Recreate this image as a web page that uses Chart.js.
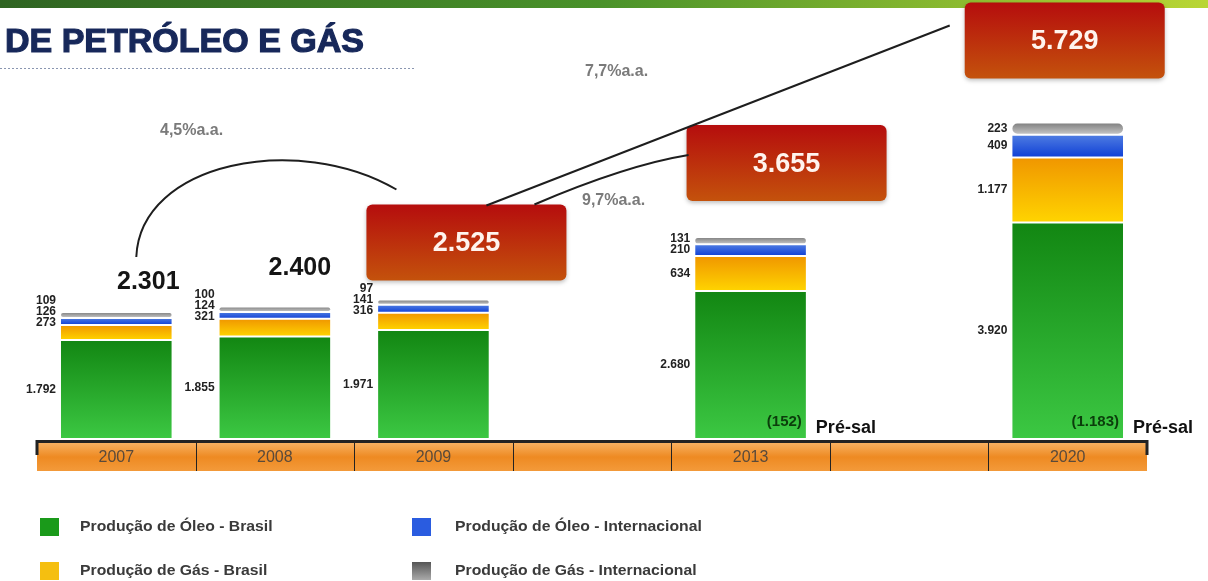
<!DOCTYPE html>
<html>
<head>
<meta charset="utf-8">
<script src="https://cdn.jsdelivr.net/npm/chart.js@4.4.0/dist/chart.umd.min.js"></script>
<style>
  body { margin: 0; background: #fff; }
  #box { width: 1208px; height: 581px; }
</style>
</head>
<body>
<div id="box"><canvas id="grafico" width="1208" height="581"></canvas></div>
<script>
// dados (mil boe/dia)
const anos = ['2007', '2008', '2009', '', '2013', '', '2020']
const oleoBrasil = [1792, 1855, 1971, null, 2680, null, 3920]
const gasBrasil = [273, 321, 316, null, 634, null, 1177]
const oleoInter = [126, 124, 141, null, 210, null, 409]
const gasInter = [109, 100, 97, null, 131, null, 223]
const totais = [2301, 2400, 2525, null, 3655, null, 5729]
const preSal = [null, null, null, null, 152, null, 1183]
const taxas = ['4,5%a.a.', '7,7%a.a.', '9,7%a.a.']
const nomes = ['Produção de Óleo - Brasil', 'Produção de Gás - Brasil', 'Produção de Óleo - Internacional', 'Produção de Gás - Internacional']

const series = [oleoBrasil, gasBrasil, oleoInter, gasInter]
const cores = [
  ['#128612', '#3cc843'],
  ['#f09600', '#ffd400'],
  ['#4f7de2', '#0f3fd6'],
  ['#7c7c7c', '#c9c9c9']
]
const coresLegenda = ['#1a9a1a', '#f5bf10', '#2a5ce0', '#777']

const narrow = '"Liberation Sans Narrow", "Liberation Sans", Arial, sans-serif'
const sans = '"Liberation Sans", Arial, sans-serif'

function fmt(v) {
  return String(v).replace(/\B(?=(\d{3})+(?!\d))/g, '.')
}

// gradiente vertical por segmento
function gradiente(par) {
  return function(c) {
    const chart = c.chart
    if (!chart.chartArea || c.type !== 'data') return par[0]
    const i = c.dataIndex, d = c.datasetIndex
    let base = 0
    for (let k = 0; k < d; k++) base += series[k][i] || 0
    const v = series[d][i] || 0
    const y = chart.scales.y
    const g = chart.ctx.createLinearGradient(0, y.getPixelForValue(base + v), 0, y.getPixelForValue(base))
    g.addColorStop(0, par[0])
    g.addColorStop(1, par[1])
    return g
  }
}

// caixas vermelhas / totais (posicao relativa a barra)
const caixas = [
  { i: 0, dx: 32, dy: -30, tipo: 'texto' },
  { i: 1, dx: 25, dy: -38, tipo: 'texto' },
  { i: 2, dx: 33, dy: -57, tipo: 'caixa' },
  { i: 4, dx: 36, dy: -74, tipo: 'caixa' },
  { i: 6, dx: -3, dy: -82, tipo: 'caixa' }
]

function caixaRed(ctx, x, y, w, h, txt) {
  ctx.save()
  ctx.shadowColor = 'rgba(0,0,0,0.25)'
  ctx.shadowBlur = 4
  ctx.shadowOffsetY = 2
  const g = ctx.createLinearGradient(0, y, 0, y + h)
  g.addColorStop(0, '#b50d0d')
  g.addColorStop(1, '#c4520c')
  ctx.fillStyle = g
  ctx.beginPath()
  ctx.roundRect(x, y, w, h, 6)
  ctx.fill()
  ctx.restore()
  ctx.fillStyle = '#fff4ee'
  ctx.font = 'bold 27px ' + sans
  ctx.textAlign = 'center'
  ctx.textBaseline = 'middle'
  ctx.fillText(txt, x + w / 2, y + h / 2 + 1)
}

const fundo = {
  id: 'fundo',
  beforeDraw(chart) {
    const ctx = chart.ctx
    ctx.save()
    ctx.fillStyle = '#fff'
    ctx.fillRect(0, 0, chart.width, chart.height)
    // faixa verde no topo
    const g = ctx.createLinearGradient(0, 0, chart.width, 0)
    g.addColorStop(0, '#2f6422')
    g.addColorStop(0.5, '#4a922a')
    g.addColorStop(1, '#b9d634')
    ctx.fillStyle = g
    ctx.fillRect(0, 0, chart.width, 8)
    // titulo
    ctx.fillStyle = '#17285a'
    ctx.strokeStyle = '#17285a'
    ctx.lineWidth = 1.2
    ctx.font = 'bold 34px ' + sans
    ctx.textBaseline = 'alphabetic'
    ctx.fillText('DE PETRÓLEO E GÁS', 5, 52)
    ctx.strokeText('DE PETRÓLEO E GÁS', 5, 52)
    // pontilhado
    ctx.strokeStyle = '#8a96b0'
    ctx.lineWidth = 1
    ctx.setLineDash([2, 2])
    ctx.beginPath()
    ctx.moveTo(0, 68.5)
    ctx.lineTo(415, 68.5)
    ctx.stroke()
    ctx.setLineDash([])

    // eixo laranja
    const ca = chart.chartArea
    const x = chart.scales.x
    const top = 443, h = 28
    const go = ctx.createLinearGradient(0, top, 0, top + h)
    go.addColorStop(0, '#f7b060')
    go.addColorStop(0.5, '#ee8a22')
    go.addColorStop(1, '#f39a3a')
    ctx.fillStyle = go
    ctx.fillRect(ca.left, top, ca.right - ca.left, h)
    const passo = (ca.right - ca.left) / anos.length
    ctx.strokeStyle = '#222'
    ctx.lineWidth = 1
    for (let k = 1; k < anos.length; k++) {
      ctx.beginPath()
      ctx.moveTo(Math.round(ca.left + k * passo) + 0.5, top)
      ctx.lineTo(Math.round(ca.left + k * passo) + 0.5, top + h)
      ctx.stroke()
    }
    ctx.lineWidth = 3
    ctx.beginPath()
    ctx.moveTo(ca.left, 455)
    ctx.lineTo(ca.left, 441.5)
    ctx.lineTo(ca.right, 441.5)
    ctx.lineTo(ca.right, 455)
    ctx.stroke()
    ctx.fillStyle = '#5a4a3a'
    ctx.font = '16px ' + narrow
    ctx.textAlign = 'center'
    ctx.textBaseline = 'middle'
    anos.forEach((a, i) => {
      if (a) ctx.fillText(a, x.getPixelForValue(i), top + h / 2 + 1)
    })

    // legenda
    const pos = [[40, 518], [40, 562], [412, 518], [412, 562]]
    ctx.textAlign = 'left'
    ctx.font = 'bold 15px ' + narrow
    nomes.forEach((n, k) => {
      const [lx, ly] = pos[k]
      let f = coresLegenda[k]
      if (k === 3) {
        f = ctx.createLinearGradient(0, ly, 0, ly + 18)
        f.addColorStop(0, '#555')
        f.addColorStop(1, '#aaa')
      }
      ctx.fillStyle = f
      ctx.fillRect(lx, ly, 19, 18)
      ctx.fillStyle = '#3a3a3a'
      ctx.save()
      ctx.translate(lx + (k < 2 ? 40 : 43), ly + 9)
      ctx.scale(1.05, 1)
      ctx.fillText(n, 0, 0)
      ctx.restore()
    })
    ctx.restore()
  }
}

const rotulos = {
  id: 'rotulos',
  afterDatasetsDraw(chart) {
    const ctx = chart.ctx
    const metas = series.map((s, d) => chart.getDatasetMeta(d))
    ctx.save()
    ctx.fillStyle = '#222'
    ctx.font = 'bold 12px ' + narrow
    ctx.textAlign = 'right'
    ctx.textBaseline = 'middle'
    anos.forEach((a, i) => {
      if (oleoBrasil[i] == null) return
      let prev = null
      for (let d = 0; d < series.length; d++) {
        const el = metas[d].data[i]
        const alto = el.base - el.y
        let ly = (el.y + el.base) / 2
        if (d === 1 && alto < 20) ly = el.y - 2
        if (prev != null) ly = Math.min(ly, prev - 11)
        if (d > 0) prev = ly
        ctx.fillText(fmt(series[d][i]), el.x - el.width / 2 - 4, ly)
      }
    })

    // pre-sal
    anos.forEach((a, i) => {
      if (preSal[i] == null) return
      const el = metas[0].data[i]
      const dir = el.x + el.width / 2
      ctx.textAlign = 'right'
      ctx.fillStyle = '#0b3d0b'
      ctx.font = 'bold 15px ' + sans
      ctx.fillText('(' + fmt(preSal[i]) + ')', dir - 5, 422)
      ctx.textAlign = 'left'
      ctx.fillStyle = '#111'
      ctx.font = 'bold 18px ' + narrow
      ctx.fillText('Pré-sal', dir + 9, 428)
    })

    // totais
    const centros = {}
    caixas.forEach(c => {
      const el = metas[3].data[c.i]
      const cx = el.x + c.dx, cy = el.y + c.dy
      if (c.tipo === 'texto') {
        ctx.fillStyle = '#151515'
        ctx.font = 'bold 25px ' + sans
        ctx.textAlign = 'center'
        ctx.fillText(fmt(totais[c.i]), cx, cy)
        centros[c.i] = { x: cx, y: cy }
      } else {
        caixaRed(ctx, cx - 100, cy - 38, 200, 76, fmt(totais[c.i]))
        centros[c.i] = { x: cx, y: cy, l: cx - 100, t: cy - 38 }
      }
    })

    // curvas de crescimento
    ctx.strokeStyle = '#1e1e1e'
    ctx.lineWidth = 2
    const a0 = centros[0], b9 = centros[2], c13 = centros[4], c20 = centros[6]
    ctx.beginPath()
    ctx.moveTo(a0.x - 12, a0.y - 25)
    ctx.bezierCurveTo(a0.x - 8, a0.y - 120, a0.x + 150, a0.y - 150, b9.l + 30, b9.t - 15)
    ctx.stroke()
    ctx.beginPath()
    ctx.moveTo(b9.l + 120, b9.t + 1)
    ctx.lineTo(c20.l - 15, c20.t + 23)
    ctx.stroke()
    ctx.beginPath()
    ctx.moveTo(b9.l + 168, b9.t)
    ctx.quadraticCurveTo(c13.l - 60, c13.t + 40, c13.l + 2, c13.t + 30)
    ctx.stroke()

    ctx.fillStyle = '#7a7a7a'
    ctx.font = 'bold 16px ' + narrow
    ctx.textAlign = 'left'
    ctx.fillText(taxas[0], 160, 131)
    ctx.fillText(taxas[1], 585, 72)
    ctx.fillText(taxas[2], 582, 201)
    ctx.restore()
  }
}

new Chart(document.getElementById('grafico'), {
  type: 'bar',
  data: {
    labels: anos,
    datasets: series.map((s, d) => ({
      label: nomes[d],
      data: s,
      backgroundColor: gradiente(cores[d]),
      borderColor: '#fff',
      borderWidth: 1,
      borderRadius: 6,
      borderSkipped: false,
      categoryPercentage: 1,
      barPercentage: 0.71
    }))
  },
  options: {
    responsive: false,
    animation: false,
    layout: { padding: { left: 37, right: 61, top: 123, bottom: 142 } },
    plugins: { legend: { display: false }, tooltip: { enabled: false } },
    scales: {
      x: { stacked: true, display: false },
      y: { stacked: true, display: false, min: 0, max: 5720 }
    }
  },
  plugins: [fundo, rotulos]
})
</script>
</body>
</html>
